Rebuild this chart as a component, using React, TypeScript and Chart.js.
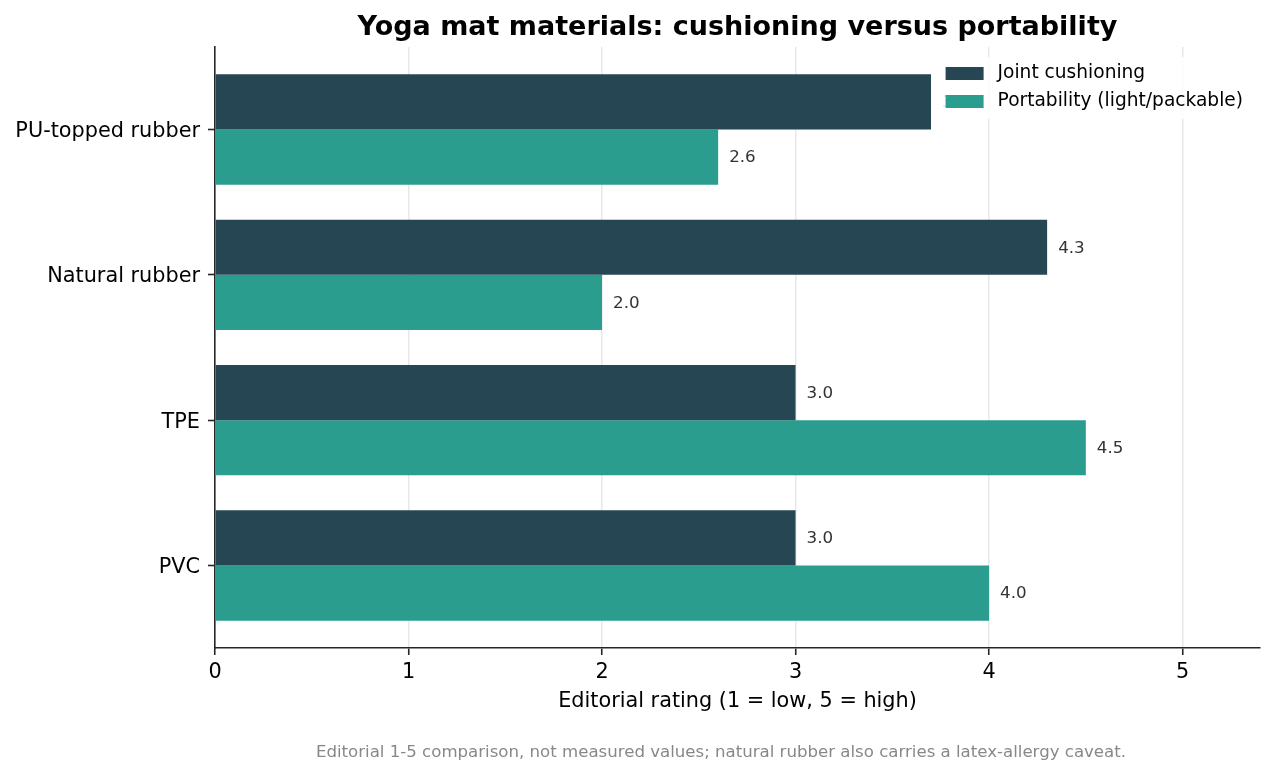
import React, { useEffect, useRef } from "react";
import { Chart, registerables } from "chart.js";

Chart.register(...registerables);

const CATEGORIES = ["PU-topped rubber", "Natural rubber", "TPE", "PVC"];
const JOINT_CUSHIONING = [3.7, 4.3, 3.0, 3.0];
const PORTABILITY = [2.6, 2.0, 4.5, 4.0];
const SERIES_NAMES = ["Joint cushioning", "Portability (light/packable)"];
const X_TICKS = [0, 1, 2, 3, 4, 5];
const TITLE = "Yoga mat materials: cushioning versus portability";
const X_TITLE = "Editorial rating (1 = low, 5 = high)";
const CAPTION =
  "Editorial 1-5 comparison, not measured values; natural rubber also carries a latex-allergy caveat.";

const DARK = "#264653";
const TEAL = "#2a9d8f";
const SPINE = "#262626";
const FONT = "'DejaVu Sans', sans-serif";

const valueLabels = {
  id: "valueLabels",
  afterDatasetsDraw(chart: any) {
    const ctx = chart.ctx;
    ctx.save();
    ctx.font = `16.7px ${FONT}`;
    ctx.fillStyle = "#333333";
    ctx.textAlign = "left";
    ctx.textBaseline = "middle";
    chart.data.datasets.forEach((ds: any, di: number) => {
      const meta = chart.getDatasetMeta(di);
      meta.data.forEach((bar: any, i: number) => {
        const v = ds.data[i].x as number;
        ctx.fillText(v.toFixed(1), bar.x + 11, bar.y + 1);
      });
    });
    ctx.restore();
  },
};

const legendAndCaption = {
  id: "legendAndCaption",
  afterDraw(chart: any) {
    const ctx = chart.ctx;
    const ca = chart.chartArea;
    ctx.save();
    // legend
    ctx.font = `18.6px ${FONT}`;
    const widths = SERIES_NAMES.map((n) => ctx.measureText(n).width);
    const tw = Math.max(...widths);
    const boxRight = ca.right - 9;
    const boxTop = ca.top + 10;
    const textX = boxRight - 8 - tw;
    const swR = textX - 14;
    const swL = swR - 38;
    const boxL = swL - 10;
    const boxH = 62;
    ctx.fillStyle = "rgba(255,255,255,0.85)";
    ctx.beginPath();
    (ctx as any).roundRect(boxL, boxTop, boxRight - boxL, boxH, 4);
    ctx.fill();
    const colors = [DARK, TEAL];
    SERIES_NAMES.forEach((n, i) => {
      const cy = boxTop + 16.5 + i * 28;
      ctx.fillStyle = colors[i];
      ctx.fillRect(swL, cy - 6.5, 38, 13);
      ctx.fillStyle = "#000000";
      ctx.textAlign = "left";
      ctx.textBaseline = "middle";
      ctx.fillText(n, textX, cy);
    });
    // caption
    ctx.font = `16.6px ${FONT}`;
    ctx.fillStyle = "#888888";
    ctx.textAlign = "center";
    ctx.textBaseline = "alphabetic";
    ctx.fillText(CAPTION, 721, 757);
    ctx.restore();
  },
};

export default function App() {
  const ref = useRef<HTMLCanvasElement | null>(null);

  useEffect(() => {
    if (!ref.current) return;
    Chart.defaults.font.family = FONT;
    const chart = new Chart(ref.current, {
      type: "bar",
      data: {
        datasets: [
          {
            label: SERIES_NAMES[0],
            data: JOINT_CUSHIONING.map((v, i) => ({ x: v, y: i })),
            backgroundColor: DARK,
            borderWidth: 0,
            categoryPercentage: 0.76,
            barPercentage: 1.0,
          },
          {
            label: SERIES_NAMES[1],
            data: PORTABILITY.map((v, i) => ({ x: v, y: i })),
            backgroundColor: TEAL,
            borderWidth: 0,
            categoryPercentage: 0.76,
            barPercentage: 1.0,
          },
        ],
      },
      options: {
        indexAxis: "y",
        animation: false,
        responsive: true,
        maintainAspectRatio: false,
        layout: { padding: { top: 0, right: 16, bottom: 56, left: 0 } },
        plugins: {
          legend: { display: false },
          tooltip: { enabled: false },
          title: {
            display: true,
            text: TITLE,
            fullSize: false,
            color: "#000000",
            font: { size: 27, weight: "bold", family: FONT },
            padding: { top: 11.5, bottom: 3.1 },
          },
        },
        scales: {
          x: {
            type: "linear",
            position: "bottom",
            min: 0,
            max: 5.4,
            offset: false,
            afterBuildTicks(scale: any) {
              scale.ticks = X_TICKS.map((v) => ({ value: v }));
            },
            afterFit(scale: any) {
              scale.height = 72;
            },
            ticks: {
              color: "#000000",
              font: { size: 20.8, family: FONT },
              padding: 5,
              maxRotation: 0,
              callback: (v: any) => String(v),
            },
            grid: {
              offset: false,
              color: (c: any) => (c.tick && c.tick.value === 0 ? "rgba(0,0,0,0)" : "#e8e8e8"),
              lineWidth: 1.5,
              drawTicks: true,
              tickLength: 7,
              tickColor: SPINE,
              tickWidth: 1.6,
            },
            border: { display: true, color: SPINE, width: 1.6 },
            title: {
              display: true,
              text: X_TITLE,
              color: "#000000",
              font: { size: 20.8, family: FONT },
              padding: { top: 0, bottom: 6 },
            },
          },
          y: {
            type: "linear",
            reverse: true,
            min: -0.568,
            max: 3.568,
            offset: false,
            afterBuildTicks(scale: any) {
              scale.ticks = CATEGORIES.map((_, i) => ({ value: i }));
            },
            afterFit(scale: any) {
              scale.width = 215;
            },
            ticks: {
              color: "#000000",
              font: { size: 20.8, family: FONT },
              padding: 8,
              labelOffset: 2,
              callback: (v: any) => CATEGORIES[Number(v)] ?? "",
            },
            grid: {
              offset: false,
              color: "rgba(0,0,0,0)",
              drawTicks: true,
              tickLength: 7,
              tickColor: SPINE,
              tickWidth: 1.6,
            },
            border: { display: true, color: SPINE, width: 1.6 },
          },
        },
      },
      plugins: [valueLabels, legendAndCaption],
    } as any);
    return () => chart.destroy();
  }, []);

  return (
    <div
      style={{
        position: "fixed",
        left: 0,
        top: 0,
        width: 1276,
        height: 776,
        background: "#ffffff",
      }}
    >
      <canvas ref={ref} />
    </div>
  );
}
